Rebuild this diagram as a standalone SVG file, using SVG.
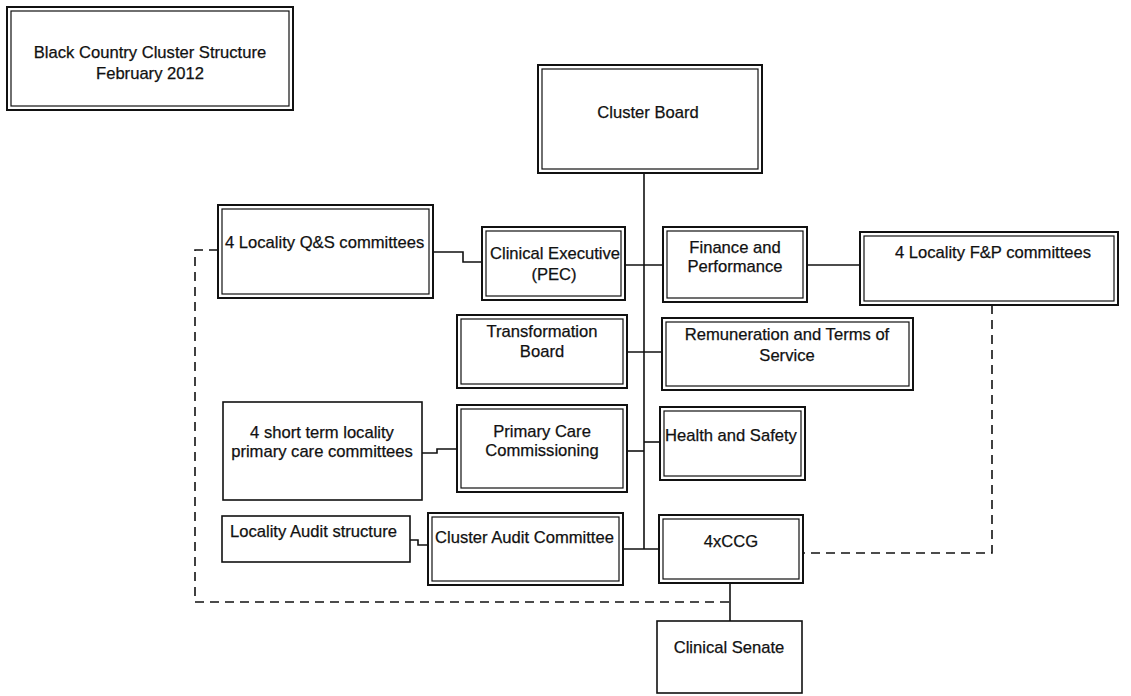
<svg xmlns="http://www.w3.org/2000/svg" width="1131" height="696" viewBox="0 0 1131 696">
<style>
  .o { fill: #fff; stroke: #111; stroke-width: 2; }
  .i { fill: none; stroke: #111; stroke-width: 1.2; }
  .s { fill: #fff; stroke: #111; stroke-width: 1.6; }
  text { font-family: "Liberation Sans", Arial, sans-serif; font-size: 16.6px; fill: #111; stroke: #111; stroke-width: 0.25; }
  .c { text-anchor: middle; }
  .ln { fill: none; stroke: #111; stroke-width: 1.6; }
  .dash { fill: none; stroke: #111; stroke-width: 1.6; stroke-dasharray: 9 6; }
</style>
<rect width="1131" height="696" fill="#fff"/>
<g id="connectors">
  <path class="ln" d="M644 173 V549"/>
  <path class="ln" d="M625 265 H663"/>
  <path class="ln" d="M807 265 H860"/>
  <path class="ln" d="M433 252 H463 V262 H482"/>
  <path class="ln" d="M627 352 H662"/>
  <path class="ln" d="M627 451 H644"/>
  <path class="ln" d="M644 442 H660"/>
  <path class="ln" d="M422 453 H437 V449 H457"/>
  <path class="ln" d="M410 540 H418 V545 H428"/>
  <path class="ln" d="M623 549 H659"/>
  <path class="ln" d="M730 583 V621"/>
  <path class="dash" d="M218 250 H195 V602 H730"/>
  <path class="dash" d="M992 305 V553 H803"/>
</g>
<g id="title">
  <rect class="o" x="7" y="7" width="286" height="103"/>
  <rect class="i" x="11" y="11" width="278" height="95"/>
  <text class="c" x="150" y="58">Black Country Cluster Structure</text>
  <text class="c" x="150" y="79">February 2012</text>
</g>
<g id="cluster-board">
  <rect class="o" x="538" y="65" width="224" height="108"/>
  <rect class="i" x="542" y="69" width="216" height="100"/>
  <text class="c" x="648" y="118">Cluster Board</text>
</g>
<g id="qs-committees">
  <rect class="o" x="218" y="205" width="215" height="93"/>
  <rect class="i" x="222" y="209" width="207" height="85"/>
  <text x="225" y="248">4 Locality Q&amp;S committees</text>
</g>
<g id="clinical-executive">
  <rect class="o" x="482" y="227" width="143" height="73"/>
  <rect class="i" x="486" y="231" width="135" height="65"/>
  <text class="c" x="555" y="259">Clinical Executive</text>
  <text class="c" x="554" y="280">(PEC)</text>
</g>
<g id="finance-performance">
  <rect class="o" x="663" y="227" width="144" height="75"/>
  <rect class="i" x="667" y="231" width="136" height="67"/>
  <text class="c" x="735" y="253">Finance and</text>
  <text class="c" x="735" y="272">Performance</text>
</g>
<g id="fp-committees">
  <rect class="o" x="860" y="232" width="258" height="73"/>
  <rect class="i" x="864" y="236" width="250" height="65"/>
  <text class="c" x="993" y="258">4 Locality F&amp;P committees</text>
</g>
<g id="transformation-board">
  <rect class="o" x="457" y="315" width="170" height="73"/>
  <rect class="i" x="461" y="319" width="162" height="65"/>
  <text class="c" x="542" y="337">Transformation</text>
  <text class="c" x="542" y="357">Board</text>
</g>
<g id="remuneration">
  <rect class="o" x="662" y="318" width="251" height="72"/>
  <rect class="i" x="666" y="322" width="243" height="64"/>
  <text class="c" x="787" y="340">Remuneration and Terms of</text>
  <text class="c" x="787" y="361">Service</text>
</g>
<g id="short-term-committees">
  <rect class="s" x="223" y="402" width="199" height="98"/>
  <text class="c" x="322" y="438">4 short term locality</text>
  <text class="c" x="322" y="457">primary care committees</text>
</g>
<g id="primary-care">
  <rect class="o" x="457" y="405" width="170" height="87"/>
  <rect class="i" x="461" y="409" width="162" height="79"/>
  <text class="c" x="542" y="437">Primary Care</text>
  <text class="c" x="542" y="456">Commissioning</text>
</g>
<g id="health-safety">
  <rect class="o" x="660" y="407" width="145" height="73"/>
  <rect class="i" x="664" y="411" width="137" height="65"/>
  <text x="665" y="441">Health and Safety</text>
</g>
<g id="locality-audit">
  <rect class="s" x="222" y="516" width="188" height="46"/>
  <text x="230" y="537">Locality Audit structure</text>
</g>
<g id="cluster-audit">
  <rect class="o" x="428" y="513" width="195" height="72"/>
  <rect class="i" x="432" y="517" width="187" height="64"/>
  <text x="435" y="543">Cluster Audit Committee</text>
</g>
<g id="ccg">
  <rect class="o" x="659" y="515" width="144" height="68"/>
  <rect class="i" x="663" y="519" width="136" height="60"/>
  <text class="c" x="731" y="547">4xCCG</text>
</g>
<g id="clinical-senate">
  <rect class="s" x="657" y="621" width="145" height="72"/>
  <text class="c" x="729" y="653">Clinical Senate</text>
</g>
</svg>
